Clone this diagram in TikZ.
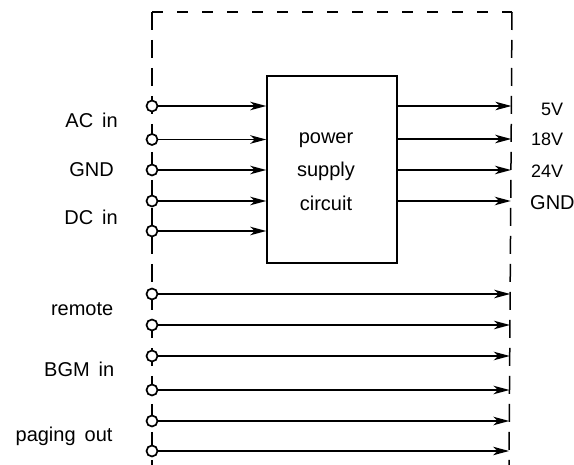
\documentclass[tikz,border=0pt]{standalone}
\usepackage{fontspec}
\setmainfont{Liberation Sans}
\usetikzlibrary{arrows.meta}
\newcommand\mylblfont{\fontsize{20}{24}\selectfont}
\newcommand\wsp{\hspace{0.45em}}
\begin{document}
\begin{tikzpicture}[x=1pt,y=-1pt,
  term/.style={circle,draw,fill=white,line width=1.7pt,inner sep=0pt,minimum size=11pt},
  sig/.style={line width=1.5pt,-{Stealth[length=16pt,width=8.5pt,inset=4.5pt]}},
  lbl/.style={font=\mylblfont,inner sep=0pt},
  vlbl/.style={font=\fontsize{18}{22}\selectfont,inner sep=0pt},
  vdash/.style={line width=1.5pt,dash pattern=on 18pt off 10pt},
  hdash/.style={line width=1.5pt,dash pattern=on 11pt off 14pt},
  blk/.style={draw,line width=1.5pt,inner sep=0pt,minimum width=130pt,minimum height=187pt}]
\useasboundingbox (0,0) rectangle (574,465);
% dashed enclosure
\coordinate (tl) at (152,12);
\coordinate (tr) at (512,12);
\coordinate (bl) at (152,465);
\coordinate (br) at (509,465);
\draw[vdash] (tl) -- (bl);
\draw[hdash] (tl) -- (tr);
\draw[vdash] (tr) -- (br);
% power supply block
\node[blk] (psu) at (332,169.5) {};
\node[lbl,anchor=base] (t1) at (326,143.5) {power};
\node[lbl,anchor=base] (t2) at (326,177) {supply};
\node[lbl,anchor=base] (t3) at (326,210.5) {circuit};
% inputs to block
\foreach \i/\y in {1/106,2/139.5,3/170,4/201,5/231}{
  \node[term] (in\i) at (152,\y) {};
  \draw[sig] (in\i) -- (in\i -| psu.west);
}
% outputs of block
\foreach \i/\y/\x in {1/106/511.4,2/139/511.2,3/170/511,4/201/510.8}{
  \coordinate (out\i) at (\x,\y);
  \draw[sig] (psu.east |- out\i) -- (out\i);
}
% pass-through signals
\foreach \i/\y/\x in {1/294/510.2,2/325/510,3/356/509.8,4/390/509.5,5/421/509.3,6/451/509.1}{
  \node[term] (p\i) at (152,\y) {};
  \coordinate (q\i) at (\x,\y);
  \draw[sig] (p\i) -- (q\i);
}
% left labels
\node[lbl,anchor=base east] (lac) at (118,127.4) {AC\wsp in};
\node[lbl,anchor=base east] (lgnd) at (114,177) {GND};
\node[lbl,anchor=base east] (ldc) at (118,225) {DC\wsp in};
\node[lbl,anchor=base east] (lrem) at (113.5,315.5) {remote};
\node[lbl,anchor=base east] (lbgm) at (114.5,377) {BGM\wsp in};
\node[lbl,anchor=base east] (lpag) at (112.7,442) {paging\wsp out};
% right labels
\node[vlbl,anchor=base west] (r5) at (541,115.3) {5V};
\node[vlbl,anchor=base west] (r18) at (531,145.7) {18V};
\node[vlbl,anchor=base west] (r24) at (531,177.5) {24V};
\node[lbl,anchor=base west] (rgnd) at (530,209.4) {GND};
\end{tikzpicture}
\end{document}
